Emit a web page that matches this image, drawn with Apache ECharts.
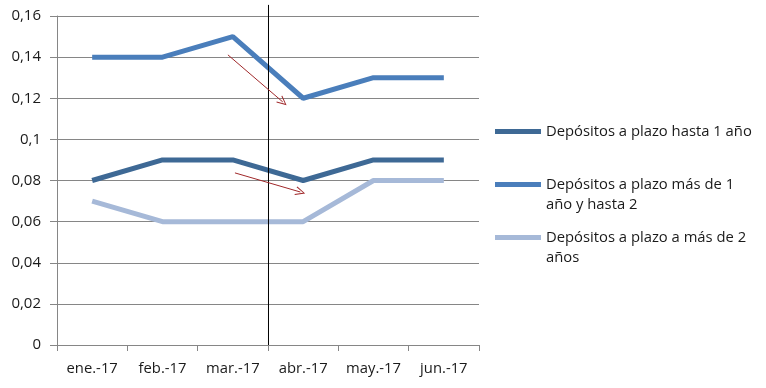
<!DOCTYPE html>
<html><head><meta charset="utf-8">
<script src="https://cdn.jsdelivr.net/npm/echarts@6/dist/echarts.min.js"></script>
<style>html,body{margin:0;padding:0;background:#fff}#c{width:766px;height:388px}</style>
</head><body><div id="c"></div>
<script>
var categories = ['ene.-17','feb.-17','mar.-17','abr.-17','may.-17','jun.-17'];
var seriesNames = ['Depósitos a plazo hasta 1 año','Depósitos a plazo más de 1 año y hasta 2','Depósitos a plazo a más de 2 años'];
var legendLabels = ['Depósitos a plazo hasta 1 año\n ','Depósitos a plazo más de 1\naño y hasta 2','Depósitos a plazo a más de 2\naños'];
var hasta1 = [0.08,0.09,0.09,0.08,0.09,0.09];
var de1a2 = [0.14,0.14,0.15,0.12,0.13,0.13];
var mas2 = [0.07,0.06,0.06,0.06,0.08,0.08];
var colors = ['#3e6995','#4a7ebb','#a6b9d8'];
var yTicks = {min:0,max:0.16,interval:0.02};
// annotation positions in category-index units (0..6 boundary scale)
var divider = [[3.007,0],[3.007,0.1654]];
var arrows = [
  [[2.43,0.1411],[3.21,0.1182]],
  [[2.53,0.0837],[3.46,0.0744]]
];

var iconTop = 'path://M0,0h46v5h-46z M0,25h0.01v0.01h-0.01z';
var arrowHead = 'path://M5,0 L10,10 L9,10.6 L5,2.2 L1,10.6 L0,10 Z';

var chart = echarts.init(document.getElementById('c'));
var font = '"Open Sans", "Liberation Sans", sans-serif';
var txt = '#1a1a1a';
chart.setOption({
  animation:false,
  textStyle:{fontFamily:font},
  grid:{left:57,right:287,top:16,bottom:43},
  legend:{
    orient:'vertical', left:495, top:121.5, itemGap:13, padding:0,
    itemWidth:46, itemHeight:25,
    textStyle:{fontSize:14.8,color:txt,lineHeight:20,fontFamily:font},
    data:[
      {name:seriesNames[0],icon:iconTop},
      {name:seriesNames[1],icon:iconTop},
      {name:seriesNames[2],icon:iconTop}
    ],
    formatter:function(n){return legendLabels[seriesNames.indexOf(n)];}
  },
  xAxis:[{
    type:'category', data:categories, boundaryGap:true,
    axisLine:{lineStyle:{color:'#868686'}},
    axisTick:{show:true,length:6,interval:0,lineStyle:{color:'#868686'}},
    axisLabel:{color:txt,fontSize:14.8,margin:16,interval:0,fontFamily:font}
  },{
    type:'value', min:0, max:6, show:false
  }],
  yAxis:{
    type:'value', min:yTicks.min, max:yTicks.max, interval:yTicks.interval,
    axisLine:{show:true,lineStyle:{color:'#868686'}},
    axisTick:{show:true,length:7,lineStyle:{color:'#868686'}},
    splitLine:{lineStyle:{color:'#868686'}},
    axisLabel:{color:txt,fontSize:15,margin:16,fontFamily:font,
      formatter:function(v){return String(+v.toFixed(2)).replace('.',',');}}
  },
  series:[
    {name:seriesNames[0],type:'line',data:hasta1,symbol:'none',z:3,
     lineStyle:{width:5,color:colors[0]},itemStyle:{color:colors[0]}},
    {name:seriesNames[1],type:'line',data:de1a2,symbol:'none',z:3,
     lineStyle:{width:5,color:colors[1]},itemStyle:{color:colors[1]}},
    {name:seriesNames[2],type:'line',data:mas2,symbol:'none',z:2,
     lineStyle:{width:5,color:colors[2]},itemStyle:{color:colors[2]}},
    {name:'divider',type:'line',xAxisIndex:1,data:divider,clip:false,symbol:'none',z:4,
     silent:true,lineStyle:{color:'#000',width:1}},
    {name:'annot',type:'line',xAxisIndex:1,data:[],clip:false,symbol:'none',z:5,
     markLine:{
       silent:true, animation:false, label:{show:false},
       lineStyle:{color:'#a0282a',width:1,type:'solid'},
       itemStyle:{color:'#a0282a'},
       data:[
         [{coord:arrows[0][0],symbol:'none'},
          {coord:arrows[0][1],symbol:arrowHead,symbolSize:[9,10]}],
         [{coord:arrows[1][0],symbol:'none'},
          {coord:arrows[1][1],symbol:arrowHead,symbolSize:[9,10]}]
       ]
     }}
  ]
});
</script></body></html>
